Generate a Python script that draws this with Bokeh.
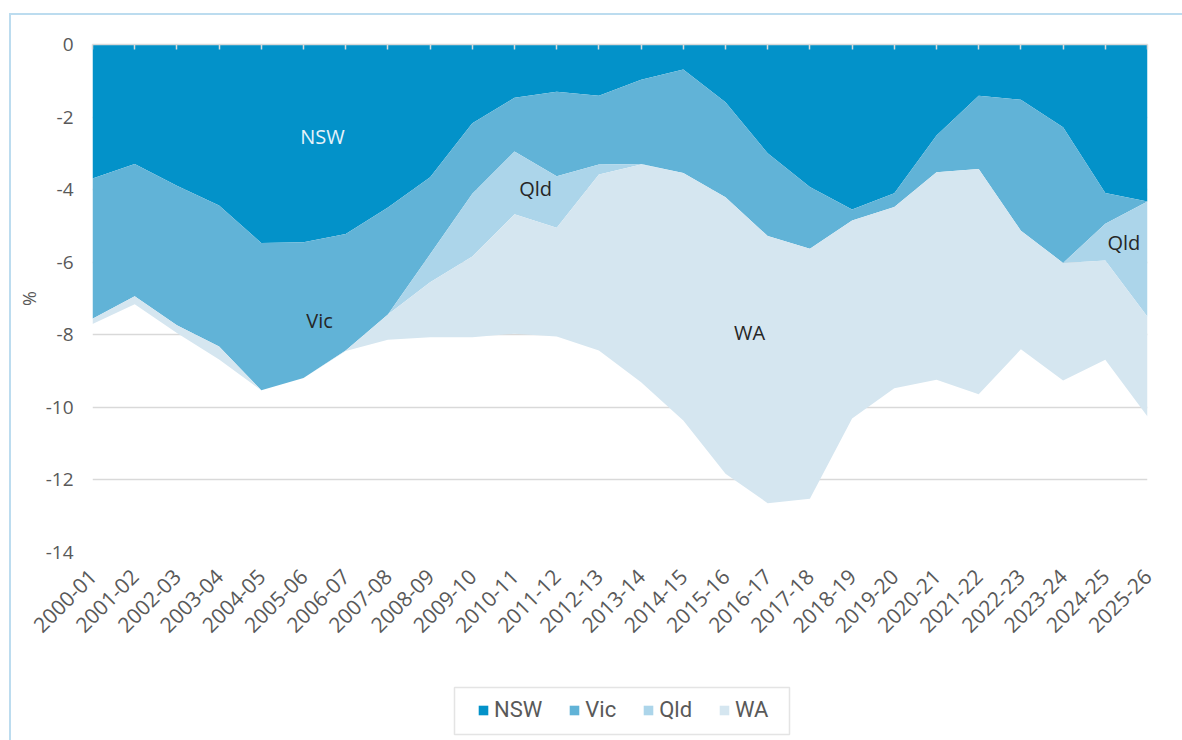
import math
from bokeh.plotting import figure
from bokeh.layouts import column
from bokeh.models import (ColumnDataSource, Range1d, LinearAxis, FixedTicker, Legend,
                          LegendItem, BoxAnnotation)
from bokeh.core.properties import value
from bokeh.embed import file_html
from bokeh.resources import INLINE

# ---------------- data ----------------
years = ["2000-01", "2001-02", "2002-03", "2003-04", "2004-05", "2005-06", "2006-07",
         "2007-08", "2008-09", "2009-10", "2010-11", "2011-12", "2012-13", "2013-14",
         "2014-15", "2015-16", "2016-17", "2017-18", "2018-19", "2019-20", "2020-21",
         "2021-22", "2022-23", "2023-24", "2024-25", "2025-26"]
nsw = [-3.69, -3.29, -3.89, -4.44, -5.47, -5.45, -5.22, -4.49, -3.66, -2.17, -1.47, -1.30, -1.41,
       -0.97, -0.69, -1.59, -3.00, -3.93, -4.55, -4.10, -2.51, -1.41, -1.52, -2.28, -4.09, -4.33]
vic = [-3.87, -3.65, -3.85, -3.88, -4.06, -3.74, -3.21, -2.95, -2.12, -1.94, -1.48, -2.33, -1.90,
       -2.32, -2.85, -2.62, -2.28, -1.70, -0.30, -0.38, -1.01, -2.02, -3.61, -3.74, -0.85, 0.00]
qld = [0.00, 0.00, 0.00, 0.00, 0.00, 0.00, 0.00, 0.00, -0.77, -1.73, -1.73, -1.42, -0.27,
       -0.02, 0.00, 0.00, 0.00, 0.00, 0.00, 0.00, 0.00, 0.00, 0.00, 0.00, -1.01, -3.17]
wa = [-0.14, -0.22, -0.21, -0.36, 0.00, 0.00, -0.02, -0.70, -1.52, -2.23, -3.29, -3.00, -4.85,
      -6.00, -6.82, -7.62, -7.36, -6.89, -5.46, -4.99, -5.72, -6.21, -3.27, -3.24, -2.74, -2.75]
series = ["NSW", "Vic", "Qld", "WA"]
y_ticks = [0, -2, -4, -6, -8, -10, -12, -14]

# in-chart labels (x = category index, y = value)
ann_text = ["NSW", "Qld", "Vic", "WA", "Qld"]
ann_x = [5.45, 10.5, 5.38, 15.57, 24.44]
ann_y = [-2.53, -3.97, -7.61, -7.94, -5.46]

colors = ["#0392c9", "#61b3d7", "#acd5ea", "#d5e6f0"]
ann_colors = ["#e6f3fa", "#262626", "#262626", "#262626", "#262626"]
grey_text = "#595959"

xs = list(range(len(years)))
source = ColumnDataSource(dict(x=xs, nsw=nsw, vic=vic, qld=qld, wa=wa))

# ---------------- main chart ----------------
p = figure(width=1171, height=645, output_backend="svg", toolbar_location=None,
           x_range=Range1d(0, len(years) - 1), y_range=Range1d(-14, 0),
           x_axis_location=None, y_axis_location=None,
           min_border_left=81, min_border_right=35, min_border_top=29, min_border_bottom=108)
p.outline_line_color = None
p.background_fill_color = "white"
p.border_fill_color = "white"
p.xgrid.visible = False

renderers = p.varea_stack(["nsw", "vic", "qld", "wa"], x="x", color=colors, source=source)

yax = LinearAxis(ticker=FixedTicker(ticks=y_ticks), axis_label="%",
                 major_label_overrides={t: str(t) for t in y_ticks})
yax.axis_line_color = None
yax.major_tick_line_color = None
yax.minor_tick_line_color = None
yax.major_tick_out = 0
yax.major_tick_in = 0
yax.major_label_standoff = 19
yax.major_label_text_font = "Open Sans"
yax.major_label_text_font_size = "19px"
yax.major_label_text_color = grey_text
yax.axis_label_text_font = "Open Sans"
yax.axis_label_text_font_size = "18px"
yax.axis_label_text_font_style = "normal"
yax.axis_label_text_color = grey_text
yax.axis_label_standoff = 2
p.add_layout(yax, "left")

p.ygrid.ticker = FixedTicker(ticks=y_ticks)
p.ygrid.grid_line_color = "#d9d9d9"
p.ygrid.grid_line_width = 1.5

# zero line with tick marks
tax = LinearAxis(ticker=FixedTicker(ticks=xs))
tax.axis_line_color = "#d9d9d9"
tax.axis_line_width = 1.5
tax.major_tick_line_color = "#d9d9d9"
tax.major_tick_line_width = 1.5
tax.major_tick_in = 5
tax.major_tick_out = 0
tax.minor_tick_line_color = None
tax.major_label_standoff = 0
tax.major_label_text_font_size = "0px"
tax.major_label_text_alpha = 0
p.add_layout(tax, "above")

# category labels
bax = LinearAxis(ticker=FixedTicker(ticks=xs),
                 major_label_overrides={i: y for i, y in enumerate(years)})
bax.axis_line_color = None
bax.major_tick_line_color = None
bax.minor_tick_line_color = None
bax.major_tick_out = 0
bax.major_tick_in = 0
bax.major_label_orientation = math.pi / 4
bax.major_label_standoff = 20
bax.major_label_text_font = "Open Sans"
bax.major_label_text_font_size = "21px"
bax.major_label_text_color = grey_text
p.add_layout(bax, "below")

p.text(x=ann_x, y=ann_y, text=ann_text, text_align="center", text_baseline="middle",
       text_font=value("Open Sans"), text_font_size="20px", text_color=ann_colors)

# ---------------- legend strip ----------------
q = figure(width=1171, height=80, output_backend="svg", toolbar_location=None,
           x_range=Range1d(0, 1), y_range=Range1d(0, 1),
           x_axis_location=None, y_axis_location=None,
           min_border=0, min_border_left=0, min_border_right=0,
           min_border_top=0, min_border_bottom=0)
q.outline_line_color = None
q.xgrid.visible = False
q.ygrid.visible = False
q.border_fill_color = "white"

nan = float("nan")
lsrc = ColumnDataSource(dict(x=[nan], y1=[nan], y2=[nan]))
lrs = [q.varea(x="x", y1="y1", y2="y2", color=c, source=lsrc) for c in colors]

legend = Legend(items=[LegendItem(label=s, renderers=[r]) for s, r in zip(series, lrs)],
                orientation="horizontal", location=(385, 18),
                glyph_width=12, glyph_height=12, label_height=12, label_standoff=5,
                spacing=26, padding=10, margin=0,
                border_line_color=None, background_fill_alpha=0,
                label_text_font="Roboto", label_text_font_size="22px",
                label_text_color=grey_text)
q.add_layout(legend, "center")

q.add_layout(BoxAnnotation(left=362, right=697, bottom=6, top=53,
                           left_units="screen", right_units="screen",
                           top_units="screen", bottom_units="screen",
                           fill_alpha=0, line_color="#a5a5a5", line_width=1.5))

layout = column(p, q, spacing=0,
                styles={"margin-left": "9px", "margin-top": "13px",
                        "border-left": "2px solid #bcdcef",
                        "border-top": "2px solid #bcdcef"})

open("out.html", "w").write(file_html(layout, INLINE))
